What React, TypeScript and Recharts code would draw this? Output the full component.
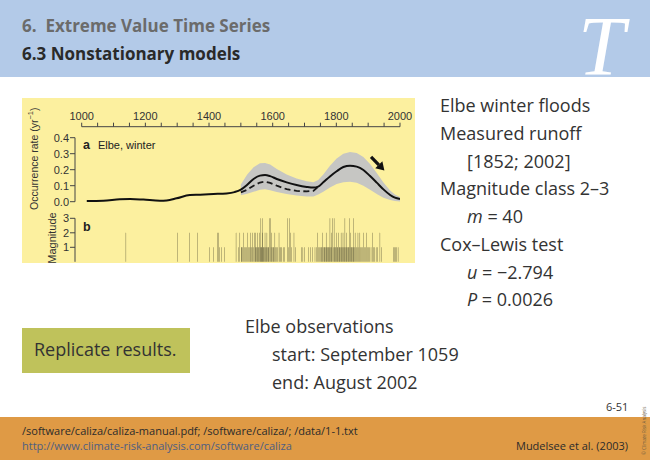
import { Area, Bar, ComposedChart, Line, ReferenceLine, XAxis, YAxis } from 'recharts';

// smoothed occurrence rate of Elbe winter floods (panel a)
const curveYears = [
  1016, 1068, 1120, 1152, 1194, 1246, 1267, 1298, 1340, 1372, 1414, 1455, 1480, 1500, 1520, 1540, 1560, 1576, 1592,
  1613, 1644, 1675, 1707, 1728, 1743, 1759, 1780, 1801, 1822, 1843, 1864, 1885, 1906, 1927, 1948, 1969, 1984, 2000,
];
const rateSolid = [
  0.004, 0.006, 0.015, 0.017, 0.013, 0.006, 0.008, 0.021, 0.042, 0.044, 0.048, 0.052, 0.06, 0.075, 0.106, 0.142, 0.163,
  0.167, 0.16, 0.142, 0.121, 0.104, 0.092, 0.088, 0.094, 0.121, 0.158, 0.19, 0.217, 0.225, 0.219, 0.198, 0.16, 0.119,
  0.077, 0.042, 0.025, 0.017,
];
const rateDashed = [
  null, null, null, null, null, null, null, null, null, null, null, null, null, 0.058, 0.075, 0.1, 0.12, 0.125, 0.118,
  0.1, 0.078, 0.068, 0.064, 0.068, 0.094, null, null, null, null, null, null, null, null, null, null, null, null, null,
];
const bandLow = [
  null, null, null, null, null, null, null, null, null, null, null, null, null, 0.04, 0.05, 0.062, 0.075, 0.078, 0.072,
  0.06, 0.048, 0.038, 0.032, 0.032, 0.045, 0.062, 0.088, 0.11, 0.122, 0.125, 0.118, 0.1, 0.075, 0.048, 0.025, 0.01,
  0.004, 0.002,
];
const bandHigh = [
  null, null, null, null, null, null, null, null, null, null, null, null, null, 0.108, 0.17, 0.215, 0.24, 0.242, 0.232,
  0.205, 0.17, 0.145, 0.128, 0.122, 0.135, 0.17, 0.225, 0.27, 0.3, 0.31, 0.305, 0.28, 0.235, 0.18, 0.12, 0.07, 0.045,
  0.03,
];

// flood events: [year, magnitude class] (panel b)
const floodEvents: [number, number][] = [
  [1139, 2], [1300, 2], [1338, 2], [1364, 2], [1401, 1], [1414, 1], [1426, 2], [1430, 2], [1433, 1], [1440, 1],
  [1449, 1], [1485, 2], [1492, 1], [1497, 2], [1501, 1], [1503, 1], [1506, 1], [1508, 2], [1511, 1], [1515, 1],
  [1518, 1], [1521, 2], [1524, 1], [1527, 1], [1530, 2], [1532, 1], [1535, 1], [1537, 2], [1540, 1], [1542, 2],
  [1545, 1], [1547, 2], [1549, 1], [1551, 1], [1553, 2], [1555, 1], [1557, 1], [1559, 2], [1561, 1], [1563, 3],
  [1564, 1], [1566, 1], [1567, 2], [1569, 3], [1570, 1], [1572, 1], [1574, 1], [1576, 2], [1578, 1], [1580, 1],
  [1582, 2], [1584, 1], [1586, 1], [1588, 1], [1591, 3], [1593, 3], [1595, 1], [1597, 2], [1599, 1], [1602, 1],
  [1604, 1], [1607, 2], [1610, 1], [1613, 1], [1616, 1], [1620, 2], [1623, 1], [1626, 1], [1629, 1], [1633, 1],
  [1638, 1], [1646, 3], [1650, 1], [1652, 3], [1655, 2], [1660, 1], [1667, 2], [1672, 1], [1690, 1], [1695, 1],
  [1700, 1], [1712, 1], [1718, 1], [1726, 1], [1733, 1], [1738, 1], [1741, 2], [1745, 1], [1748, 1], [1751, 1],
  [1753, 1], [1755, 1], [1757, 2], [1759, 1], [1762, 1], [1764, 1], [1766, 1], [1768, 2], [1770, 1], [1772, 1],
  [1774, 1], [1776, 1], [1778, 1], [1780, 3], [1782, 1], [1784, 2], [1786, 1], [1788, 3], [1790, 1], [1793, 3],
  [1795, 1], [1797, 1], [1799, 1], [1801, 2], [1803, 1], [1805, 1], [1807, 2], [1809, 1], [1811, 1], [1813, 1],
  [1815, 2], [1817, 1], [1819, 1], [1821, 2], [1823, 1], [1825, 1], [1827, 3], [1829, 1], [1831, 1], [1833, 2],
  [1835, 1], [1837, 1], [1839, 1], [1841, 3], [1843, 1], [1845, 2], [1847, 1], [1849, 1], [1851, 1], [1853, 3],
  [1855, 1], [1857, 1], [1859, 2], [1862, 1], [1865, 1], [1868, 2], [1871, 1], [1874, 2], [1877, 1], [1880, 1],
  [1883, 1], [1886, 2], [1889, 1], [1892, 1], [1895, 2], [1898, 1], [1901, 1], [1905, 1], [1909, 1], [1913, 2],
  [1916, 1], [1920, 1], [1925, 1], [1930, 1], [1937, 2], [1941, 1], [1979, 1], [1982, 1], [1987, 1], [1990, 1],
  [1994, 1],
];

const yearTicks = [
  1000, 1050, 1100, 1150, 1200, 1250, 1300, 1350, 1400, 1450, 1500, 1550, 1600, 1650, 1700, 1750, 1800, 1850, 1900,
  1950, 2000,
];
const rateTicks = [0, 0.1, 0.2, 0.3, 0.4];
const magTicks = [1, 2, 3];
const trendArrow = [
  { x: 1909, y: 0.28 },
  { x: 1951, y: 0.195 },
];

const rows = curveYears.map((year, i) => ({
  year,
  rate: rateSolid[i],
  dashed: rateDashed[i],
  band: bandLow[i] == null ? null : [bandLow[i], bandHigh[i]],
}));
const events = floodEvents.map(([year, mag]) => ({ year, mag }));

const AX = '"Liberation Sans", Arial, sans-serif';
const W = 393;
const H = 165;
const box = { position: 'absolute' as const, left: 0, top: 0 };

const TopTick = (p: any) => {
  const v = p.payload?.value;
  if (v % 200 !== 0) return <g />;
  return (
    <text x={p.x} y={p.y - 1} textAnchor="middle" fontSize={11} fill="#333" fontFamily={AX}>
      {v}
    </text>
  );
};

const Arrow = (p: any) => {
  const { x1, y1, x2, y2 } = p;
  const a = Math.atan2(y2 - y1, x2 - x1);
  const c = Math.cos(a);
  const s = Math.sin(a);
  const bx = x2 - 8 * c;
  const by = y2 - 8 * s;
  return (
    <g>
      <line x1={x1} y1={y1} x2={bx} y2={by} stroke="#111" strokeWidth={3.2} />
      <polygon points={`${x2},${y2} ${bx - 5 * s},${by + 5 * c} ${bx + 5 * s},${by - 5 * c}`} fill="#111" />
    </g>
  );
};

const RateLabel = (p: any) => {
  const vb = p.viewBox || { x: 0, y: 40, height: 64 };
  const cx = vb.x + 13;
  const cy = vb.y + vb.height / 2 - 11;
  return (
    <text x={cx} y={cy} transform={`rotate(-90 ${cx} ${cy})`} textAnchor="middle" dominantBaseline="middle"
      fontSize={10.5} fill="#333" fontFamily={AX}>
      Occurrence rate (yr
      <tspan dy={-4} fontSize={7.5}>−1</tspan>
      <tspan dy={4}>)</tspan>
    </text>
  );
};

const MagLabel = (p: any) => {
  const vb = p.viewBox || { x: 0, y: 120, height: 42 };
  const cx = vb.x + 31;
  const cy = vb.y + vb.height / 2 - 2;
  return (
    <text x={cx} y={cy} transform={`rotate(-90 ${cx} ${cy})`} textAnchor="middle" dominantBaseline="middle"
      fontSize={11} fill="#333" fontFamily={AX}>
      Magnitude
    </text>
  );
};

function FloodChart() {
  const axisTick = { fontSize: 11, fill: '#333', fontFamily: AX };
  return (
    <div style={{ position: 'absolute', left: 22, top: 98, width: W, height: H, background: '#fcf09f' }}>
      <div style={box}>
        <ComposedChart width={W} height={H} data={rows} margin={{ top: 0.7, right: 15, left: 59.7, bottom: 120 }}>
          <XAxis orientation="top" type="number" dataKey="year" domain={[1000, 2000]} allowDataOverflow
            ticks={yearTicks} interval={0} height={28} tickSize={4} tick={<TopTick />} stroke="#444" />
          <YAxis hide domain={[0, 1]} />
          <Line dataKey="rate" stroke="none" dot={false} isAnimationActive={false} />
        </ComposedChart>
      </div>
      <div style={box}>
        <ComposedChart width={W} height={H} data={rows} margin={{ top: 39.7, right: 15, left: 0, bottom: 61.3 }}>
          <XAxis hide type="number" dataKey="year" domain={[979, 2000]} allowDataOverflow />
          <YAxis width={53} domain={[0, 0.4]} ticks={rateTicks} interval={0} tickFormatter={(v) => v.toFixed(1)}
            tickSize={5} tickMargin={1} stroke="#444" tick={axisTick} label={RateLabel} />
          <Area dataKey="band" fill="#c6c6c3" fillOpacity={1} stroke="none" isAnimationActive={false} />
          <Line dataKey="dashed" stroke="#1a1a1a" strokeWidth={1.8} strokeDasharray="6 3.5" dot={false}
            isAnimationActive={false} />
          <Line type="monotone" dataKey="rate" stroke="#111" strokeWidth={2} dot={false} isAnimationActive={false} />
          <ReferenceLine segment={trendArrow} shape={Arrow} ifOverflow="visible" />
        </ComposedChart>
      </div>
      <div style={box}>
        <ComposedChart width={W} height={H} data={events} margin={{ top: 120.3, right: 15, left: 0, bottom: 1.2 }}>
          <XAxis hide type="number" dataKey="year" domain={[979, 2000]} allowDataOverflow />
          <YAxis width={53} domain={[0, 3]} ticks={magTicks} interval={0} tickSize={5} tickMargin={1} stroke="#444"
            tick={axisTick} label={MagLabel} />
          <Bar dataKey="mag" fill="#000" fillOpacity={0.85} barSize={1.8} isAnimationActive={false} />
        </ComposedChart>
      </div>
      <div style={{ position: 'absolute', left: 61, top: 40, fontFamily: AX, fontSize: 11, color: '#222' }}>
        <b style={{ fontSize: 12.5 }}>a</b>
        <span style={{ marginLeft: 8 }}>Elbe, winter</span>
      </div>
      <div style={{ position: 'absolute', left: 61, top: 122, fontFamily: AX, fontSize: 12.5, color: '#222' }}>
        <b>b</b>
      </div>
    </div>
  );
}

export default function App() {
  const txt = { color: '#333', fontSize: 18, lineHeight: '27.7px' };
  const ind = { paddingLeft: 27 };
  return (
    <div style={{ position: 'absolute', left: 0, top: 0, width: 650, height: 460, overflow: 'hidden', background: '#fff',
      fontFamily: '"Open Sans", sans-serif' }}>
      <div style={{ position: 'absolute', left: 0, top: 0, width: 650, height: 77, background: '#b3cae8' }} />
      <div style={{ position: 'absolute', left: 22, top: 14, fontSize: 17, fontWeight: 700, color: '#6b6b6b' }}>
        6.&nbsp; Extreme Value Time Series
      </div>
      <div style={{ position: 'absolute', left: 22, top: 42, fontSize: 17, fontWeight: 700, color: '#2a2a2a' }}>
        6.3 Nonstationary models
      </div>
      <svg style={{ position: 'absolute', left: 560, top: 0 }} width={90} height={100}>
        <text x={18} y={75} fontSize={84} fontStyle="italic" fill="#fff" fontFamily='"Liberation Serif", serif'>
          T
        </text>
      </svg>

      <FloodChart />

      <div style={{ position: 'absolute', left: 440, top: 92.3, ...txt }}>
        <div>Elbe winter floods</div>
        <div>Measured runoff</div>
        <div style={ind}>[1852; 2002]</div>
        <div>Magnitude class 2–3</div>
        <div style={ind}><i>m</i> = 40</div>
        <div>Cox–Lewis test</div>
        <div style={ind}><i>u</i> = −2.794</div>
        <div style={ind}><i>P</i> = 0.0026</div>
      </div>

      <div style={{ position: 'absolute', left: 22, top: 328, width: 168, height: 45, background: '#bfc25b' }} />
      <div style={{ position: 'absolute', left: 34, top: 337, ...txt, lineHeight: 'normal' }}>Replicate results.</div>

      <div style={{ position: 'absolute', left: 245, top: 313.4, ...txt }}>
        <div>Elbe observations</div>
        <div style={ind}>start: September 1059</div>
        <div style={ind}>end: August 2002</div>
      </div>

      <div style={{ position: 'absolute', left: 606, top: 399, fontSize: 11, color: '#333' }}>6-51</div>
      <div style={{ position: 'absolute', left: 0, top: 417, width: 650, height: 43, background: '#df9a45' }} />
      <div style={{ position: 'absolute', left: 22, top: 423, fontSize: 11, color: '#2b2b2b' }}>
        /software/caliza/caliza-manual.pdf; /software/caliza/; /data/1-1.txt
      </div>
      <div style={{ position: 'absolute', left: 22, top: 438, fontSize: 11, color: '#4e5e82' }}>
        http://www.climate-risk-analysis.com/software/caliza
      </div>
      <div style={{ position: 'absolute', right: 22, top: 438, fontSize: 11, color: '#2b2b2b' }}>
        Mudelsee et al. (2003)
      </div>
      <div style={{ position: 'absolute', left: 641, top: 455, fontSize: 4.5, color: '#6a5a40', transformOrigin: '0 0',
        transform: 'rotate(-90deg)', whiteSpace: 'nowrap' }}>
        © Climate Risk Analysis
      </div>
    </div>
  );
}
